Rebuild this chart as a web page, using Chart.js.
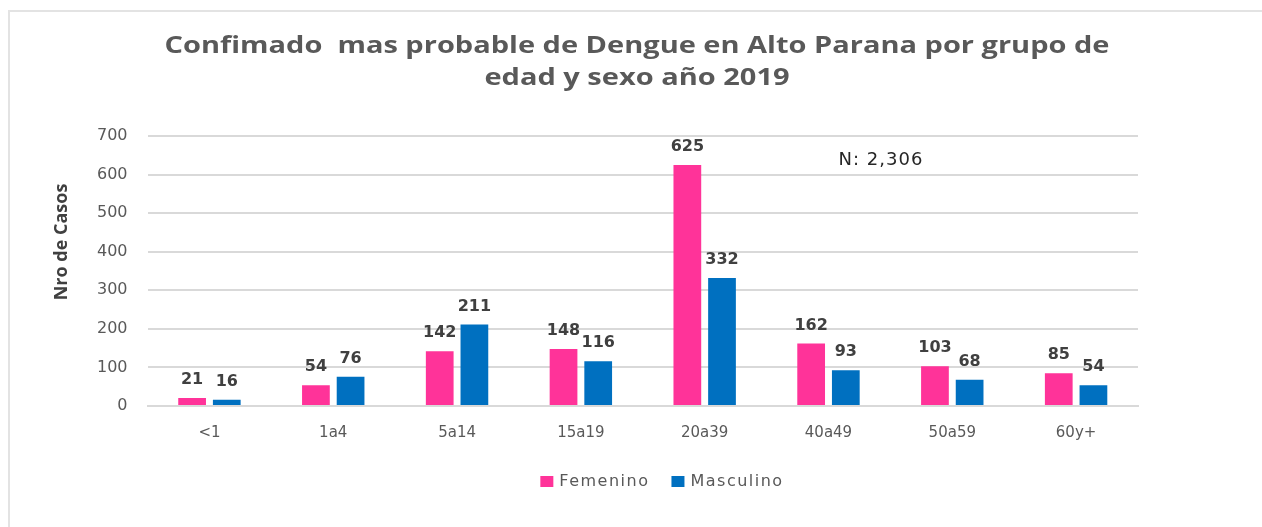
<!DOCTYPE html>
<html>
<head>
    <title>Dengue Alto Parana 2019</title>
    <script src="https://cdn.jsdelivr.net/npm/chart.js"></script>
    <style>
        body { margin: 0; background: #fff; }
        #frame { position: absolute; left: 8px; top: 10px; width: 1300px; height: 600px; border: 2px solid #e3e3e3; }
        #wrap { position: absolute; left: 0; top: 0; width: 1262px; height: 527px; }
    </style>
</head>
<body>
    <div id="frame"></div>
    <div id="wrap"><canvas id="barChart"></canvas></div>

    <script>
        const categories = ["<1", "1a4", "5a14", "15a19", "20a39", "40a49", "50a59", "60y+"];
        const femenino = [21, 54, 142, 148, 625, 162, 103, 85];
        const masculino = [16, 76, 211, 116, 332, 93, 68, 54];
        const yTicks = [0, 100, 200, 300, 400, 500, 600, 700];
        const titleLines = ["Confimado  mas probable de Dengue en Alto Parana por grupo de", "edad y sexo año 2019"];
        const yTitle = "Nro de Casos";
        const note = "N: 2,306";

        // titulo (algo estirado como en el original), titulo del eje, valores, nota N y leyenda
        const decorations = {
            id: "decorations",
            afterDraw(chart) {
                const ctx = chart.ctx;
                ctx.save();

                // titulo
                ctx.font = "bold 24px 'Open Sans', sans-serif";
                ctx.fillStyle = "#595959";
                ctx.textAlign = "center";
                ctx.textBaseline = "middle";
                const stretch = 945 / ctx.measureText(titleLines[0]).width;
                titleLines.forEach((line, i) => {
                    ctx.save();
                    ctx.translate(637, 46 + i * 32);
                    ctx.scale(stretch, 1);
                    ctx.fillText(line, 0, 0);
                    ctx.restore();
                });

                // titulo del eje y
                ctx.save();
                ctx.translate(62, 242);
                ctx.rotate(-Math.PI / 2);
                ctx.font = "bold 18px 'Liberation Sans Narrow', 'Open Sans', sans-serif";
                ctx.fillStyle = "#404040";
                ctx.fillText(yTitle, 0, 0);
                ctx.restore();

                // valores sobre las barras
                ctx.font = "bold 16px 'DejaVu Sans', sans-serif";
                ctx.fillStyle = "#404040";
                ctx.textBaseline = "bottom";
                chart.data.datasets.forEach((ds, i) => {
                    chart.getDatasetMeta(i).data.forEach((bar, j) => {
                        ctx.fillText(ds.data[j], bar.x, bar.y - 10);
                    });
                });

                // nota N
                ctx.font = "18px 'DejaVu Sans', sans-serif";
                ctx.letterSpacing = "1px";
                ctx.fillStyle = "#262626";
                ctx.textBaseline = "middle";
                ctx.fillText(note, 881, 160);

                // leyenda
                ctx.font = "16px 'DejaVu Sans', sans-serif";
                ctx.letterSpacing = "1.5px";
                ctx.textAlign = "left";
                const items = chart.data.datasets.map(ds => ({ label: ds.label, color: ds.backgroundColor, w: 13 + 6 + ctx.measureText(ds.label).width }));
                const gap = 22;
                const total = items.reduce((s, it) => s + it.w, 0) + gap * (items.length - 1);
                let x = 662 - total / 2;
                const y = 482;
                items.forEach(it => {
                    ctx.fillStyle = it.color;
                    ctx.fillRect(x, y - 6, 13, 11);
                    ctx.fillStyle = "#595959";
                    ctx.fillText(it.label, x + 19, y);
                    x += it.w + gap;
                });

                ctx.restore();
            }
        };

        const ctx = document.getElementById("barChart").getContext("2d");
        new Chart(ctx, {
            type: "bar",
            data: {
                labels: categories,
                datasets: [
                    { label: "Femenino", data: femenino, backgroundColor: "#ff3399" },
                    { label: "Masculino", data: masculino, backgroundColor: "#0070c0" }
                ]
            },
            options: {
                responsive: true,
                maintainAspectRatio: false,
                animation: false,
                layout: { padding: { left: 77, right: 124, top: 136, bottom: 75 } },
                datasets: { bar: { barPercentage: 0.8, categoryPercentage: 0.56 } },
                plugins: {
                    title: { display: false },
                    legend: { display: false },
                    tooltip: { enabled: false }
                },
                scales: {
                    x: {
                        grid: { display: false },
                        border: { color: "#d9d9d9", width: 2 },
                        ticks: { color: "#595959", font: { family: "'DejaVu Sans', sans-serif", size: 15 }, padding: 10 }
                    },
                    y: {
                        min: 0,
                        max: 700,
                        afterBuildTicks: axis => { axis.ticks = yTicks.map(v => ({ value: v })); },
                        grid: { color: "#d9d9d9", lineWidth: 2, drawTicks: false },
                        border: { display: false },
                        ticks: { color: "#595959", font: { family: "'DejaVu Sans', sans-serif", size: 16 }, padding: 20 }
                    }
                }
            },
            plugins: [decorations]
        });
    </script>
</body>
</html>
